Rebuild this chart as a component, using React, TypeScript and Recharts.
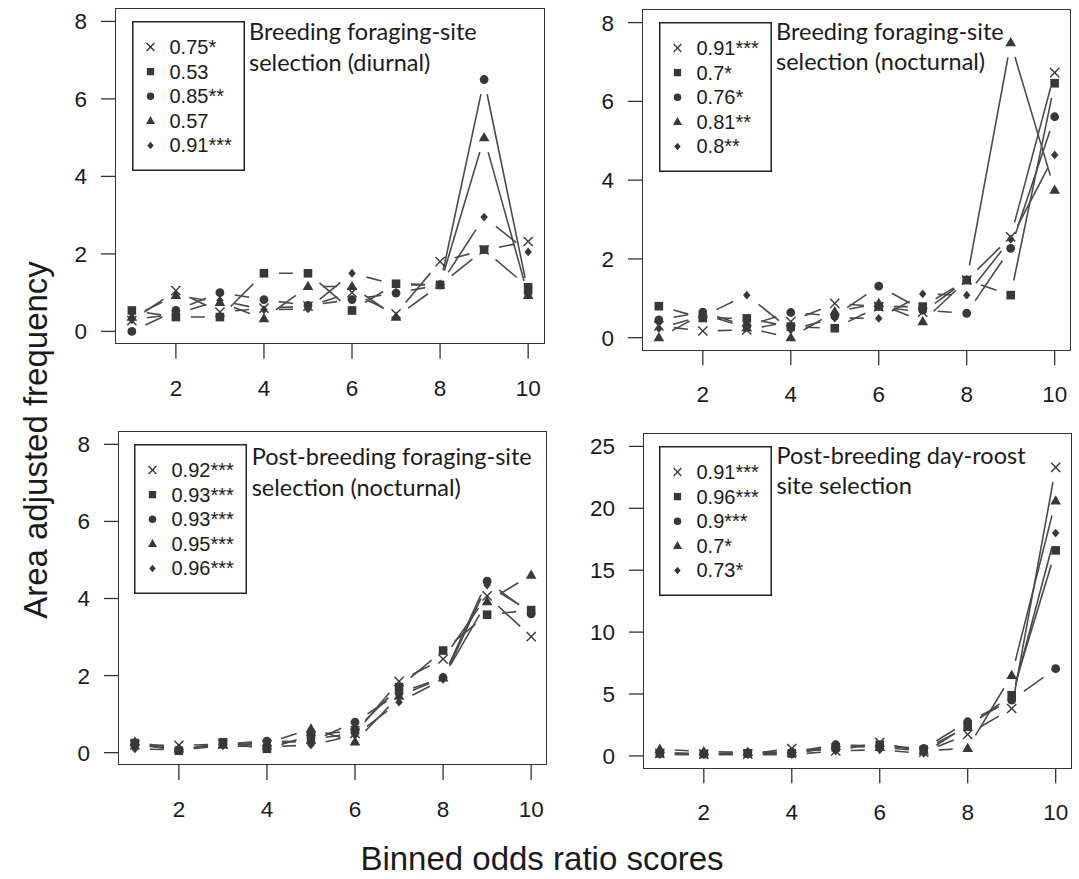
import { LineChart, Line, XAxis, YAxis } from 'recharts';

const BINS = [1, 2, 3, 4, 5, 6, 7, 8, 9, 10];
const X_TICKS = [2, 4, 6, 8, 10];

// Breeding foraging-site selection (diurnal)
const bdCross = [0.28, 1.05, 0.5, 0.6, 0.65, 1.0, 0.45, 1.8, 2.1, 2.32];
const bdSquare = [0.54, 0.37, 0.37, 1.5, 1.5, 0.54, 1.23, 1.2, 2.11, 1.14];
const bdCircle = [0.0, 0.54, 1.0, 0.82, 0.67, 0.82, 0.99, 1.2, 6.5, 1.0];
const bdTriangle = [0.37, 0.93, 0.75, 0.33, 1.16, 1.16, 0.37, 1.2, 5.0, 0.93];
const bdDiamond = [0.3, 0.45, 0.8, 0.56, 0.58, 1.5, 1.2, 1.2, 2.95, 2.05];
const bdLabels = ['0.75*', '0.53', '0.85**', '0.57', '0.91***'];

// Breeding foraging-site selection (nocturnal)
const bnCross = [0.3, 0.17, 0.2, 0.41, 0.87, 0.79, 0.65, 1.46, 2.56, 6.73];
const bnSquare = [0.8, 0.5, 0.49, 0.28, 0.24, 0.79, 0.79, 1.46, 1.08, 6.46];
const bnCircle = [0.45, 0.65, 0.3, 0.64, 0.55, 1.31, 0.7, 0.62, 2.27, 5.61];
const bnTriangle = [0.0, 0.6, 0.25, 0.0, 0.66, 0.87, 0.41, 1.46, 7.49, 3.75];
const bnDiamond = [0.24, 0.55, 1.08, 0.2, 0.5, 0.49, 1.11, 1.08, 2.5, 4.64];
const bnLabels = ['0.91***', '0.7*', '0.76*', '0.81**', '0.8**'];

// Post-breeding foraging-site selection (nocturnal)
const pnCross = [0.2, 0.19, 0.22, 0.2, 0.35, 0.5, 1.85, 2.43, 4.07, 3.01];
const pnSquare = [0.25, 0.05, 0.27, 0.1, 0.45, 0.58, 1.7, 2.65, 3.58, 3.7];
const pnCircle = [0.2, 0.08, 0.22, 0.3, 0.28, 0.79, 1.55, 1.95, 4.45, 3.6];
const pnTriangle = [0.28, 0.1, 0.2, 0.25, 0.62, 0.28, 1.47, 1.94, 3.92, 4.61];
const pnDiamond = [0.1, 0.07, 0.18, 0.15, 0.2, 0.45, 1.31, 1.9, 4.35, 3.65];
const pnLabels = ['0.92***', '0.93***', '0.93***', '0.95***', '0.96***'];

// Post-breeding day-roost site selection
const prCross = [0.2, 0.15, 0.15, 0.6, 0.4, 1.1, 0.3, 1.74, 3.83, 23.3];
const prSquare = [0.2, 0.15, 0.2, 0.2, 0.7, 0.9, 0.5, 2.36, 4.9, 16.6];
const prCircle = [0.25, 0.2, 0.25, 0.3, 0.9, 0.8, 0.6, 2.76, 4.5, 7.05];
const prTriangle = [0.55, 0.35, 0.3, 0.25, 0.8, 0.7, 0.4, 0.62, 6.5, 20.6];
const prDiamond = [0.1, 0.1, 0.1, 0.1, 0.4, 0.5, 0.2, 2.5, 4.6, 18.0];
const prLabels = ['0.91***', '0.96***', '0.9***', '0.7*', '0.73*'];

const SHAPES = ['cross', 'square', 'circle', 'triangle', 'diamond'];

const FONT_SANS = '"Liberation Sans", Arial, sans-serif';
const FONT_TITLE = 'Lato, "Open Sans", sans-serif';
const MARK = '#383838';
const LINE = '#4a4a4a';
const TEXT = '#1a1a1a';
const GAP = 15;

const buildRows = (series: number[][]) =>
  BINS.map((x, i) => {
    const row: Record<string, number> = { x };
    series.forEach((s, k) => (row['s' + k] = s[i]));
    return row;
  });

const panels = [
  {
    box: { x: 116, y: 8.6, w: 428, h: 334.8 },
    yDomain: [-0.32, 8.32], yTicks: [0, 2, 4, 6, 8],
    rows: buildRows([bdCross, bdSquare, bdCircle, bdTriangle, bdDiamond]),
    labels: bdLabels, title: ['Breeding foraging-site', 'selection (diurnal)'], titleDy: 23,
  },
  {
    box: { x: 643, y: 10, w: 427.5, h: 340.3 },
    yDomain: [-0.32, 8.32], yTicks: [0, 2, 4, 6, 8],
    rows: buildRows([bnCross, bnSquare, bnCircle, bnTriangle, bnDiamond]),
    labels: bnLabels, title: ['Breeding foraging-site', 'selection (nocturnal)'], titleDy: 21,
  },
  {
    box: { x: 118.7, y: 431.7, w: 428, h: 333 },
    yDomain: [-0.32, 8.32], yTicks: [0, 2, 4, 6, 8],
    rows: buildRows([pnCross, pnSquare, pnCircle, pnTriangle, pnDiamond]),
    labels: pnLabels, title: ['Post-breeding foraging-site', 'selection (nocturnal)'], titleDy: 25,
  },
  {
    box: { x: 643.5, y: 434, w: 427.5, h: 334.3 },
    yDomain: [-1, 26], yTicks: [0, 5, 10, 15, 20, 25],
    rows: buildRows([prCross, prSquare, prCircle, prTriangle, prDiamond]),
    labels: prLabels, title: ['Post-breeding day-roost', 'site selection'], titleDy: 21,
  },
];

function Marker({ shape, cx, cy, s = 1 }: { shape: string; cx: number; cy: number; s?: number }) {
  if (shape === 'cross') {
    const d = 4.6 * s;
    return (
      <g stroke={MARK} strokeWidth={1.4}>
        <line x1={cx - d} y1={cy - d} x2={cx + d} y2={cy + d} />
        <line x1={cx - d} y1={cy + d} x2={cx + d} y2={cy - d} />
      </g>
    );
  }
  if (shape === 'square') {
    const d = 4.3 * s;
    return <rect x={cx - d} y={cy - d} width={2 * d} height={2 * d} fill={MARK} />;
  }
  if (shape === 'circle') return <circle cx={cx} cy={cy} r={4.4 * s} fill={MARK} />;
  if (shape === 'triangle') {
    const h = 5.6 * s;
    return <polygon points={`${cx},${cy - h} ${cx - h * 0.95},${cy + h * 0.65} ${cx + h * 0.95},${cy + h * 0.65}`} fill={MARK} />;
  }
  const d = 4.4 * s;
  return <polygon points={`${cx},${cy - d} ${cx + d * 0.85},${cy} ${cx},${cy + d} ${cx - d * 0.85},${cy}`} fill={MARK} />;
}

// R type="b": segment between points, with a gap at both ends
const segmentDot = (props: any) => {
  const { cx, cy, index, points } = props;
  const next = points && points[index + 1];
  if (!next || cx == null || next.y == null) return <g key={`seg-${index}`} />;
  const dx = next.x - cx;
  const dy = next.y - cy;
  const len = Math.hypot(dx, dy);
  if (len <= 2 * GAP) return <g key={`seg-${index}`} />;
  const ux = dx / len;
  const uy = dy / len;
  return (
    <line key={`seg-${index}`} x1={cx + ux * GAP} y1={cy + uy * GAP} x2={next.x - ux * GAP} y2={next.y - uy * GAP}
      stroke={LINE} strokeWidth={1.6} />
  );
};

const markerDot = (shape: string) => (props: any) => (
  <g key={`mk-${props.index}`}>
    {props.cx != null && props.cy != null ? <Marker shape={shape} cx={props.cx} cy={props.cy} /> : null}
  </g>
);

function LegendBox({ left, top, labels }: { left: number; top: number; labels: string[] }) {
  return (
    <svg style={{ position: 'absolute', left, top }} width={114} height={151}>
      <rect x={0.75} y={0.75} width={111.5} height={148.5} fill="white" stroke="#222" strokeWidth={1.5} />
      {SHAPES.map((s, i) => (
        <g key={s}>
          <Marker shape={s} cx={18.5} cy={26 + 24.6 * i} s={0.85} />
          <text x={37.5} y={26 + 24.6 * i} dominantBaseline="central" fontSize={20} fontFamily={FONT_SANS} fill={TEXT}>
            {labels[i]}
          </text>
        </g>
      ))}
    </svg>
  );
}

function Panel({ p }: { p: (typeof panels)[number] }) {
  const { box } = p;
  return (
    <>
      <div style={{ position: 'absolute', left: box.x - 100, top: box.y - 10 }}>
        <LineChart width={box.w + 110} height={box.h + 70} data={p.rows} margin={{ top: 10, right: 10, bottom: 0, left: 0 }}>
          <XAxis type="number" dataKey="x" domain={[0.64, 10.36]} ticks={X_TICKS} allowDataOverflow axisLine={false}
            height={60} tickSize={15} tickMargin={21} tickLine={{ stroke: '#333', strokeWidth: 1.3 }}
            tick={{ fill: TEXT, fontSize: 22.5, fontFamily: FONT_SANS }} interval={0} />
          <YAxis type="number" domain={p.yDomain} ticks={p.yTicks} allowDataOverflow axisLine={false}
            width={100} tickSize={15} tickMargin={14} tickLine={{ stroke: '#333', strokeWidth: 1.3 }}
            tick={{ fill: TEXT, fontSize: 22.5, fontFamily: FONT_SANS }} interval={0} />
          {SHAPES.map((s, k) => (
            <Line key={'seg' + s} dataKey={'s' + k} stroke="none" dot={segmentDot} activeDot={false}
              isAnimationActive={false} />
          ))}
          {SHAPES.map((s, k) => (
            <Line key={'mk' + s} dataKey={'s' + k} stroke="none" dot={markerDot(s)} activeDot={false}
              isAnimationActive={false} />
          ))}
        </LineChart>
      </div>
      <div style={{
        position: 'absolute', left: box.x - 0.75, top: box.y - 0.75, width: box.w + 1.5, height: box.h + 1.5,
        border: '1.5px solid #333', boxSizing: 'border-box', pointerEvents: 'none',
      }} />
      <LegendBox left={box.x + 15.5} top={box.y + 12} labels={p.labels} />
      <div style={{
        position: 'absolute', left: box.x + 133, top: box.y + p.titleDy - 15.5, fontFamily: FONT_TITLE,
        fontSize: 23.5, lineHeight: '30.5px', color: TEXT, whiteSpace: 'pre',
      }}>
        {p.title.join('\n')}
      </div>
    </>
  );
}

export default function App() {
  return (
    <div style={{ position: 'absolute', left: 0, top: 0, width: 1079, height: 879, background: 'white', overflow: 'hidden' }}>
      <svg style={{ position: 'absolute', left: 0, top: 0 }} width={1079} height={879}>
        <text transform="translate(35 440) rotate(-90)" textAnchor="middle" dominantBaseline="central"
          fontSize={33} fontFamily={FONT_SANS} fill={TEXT}>
          Area adjusted frequency
        </text>
        <text x={542} y={858} textAnchor="middle" dominantBaseline="central" fontSize={33} fontFamily={FONT_SANS} fill={TEXT}>
          Binned odds ratio scores
        </text>
      </svg>
      {panels.map((p, i) => (
        <Panel key={i} p={p} />
      ))}
    </div>
  );
}
